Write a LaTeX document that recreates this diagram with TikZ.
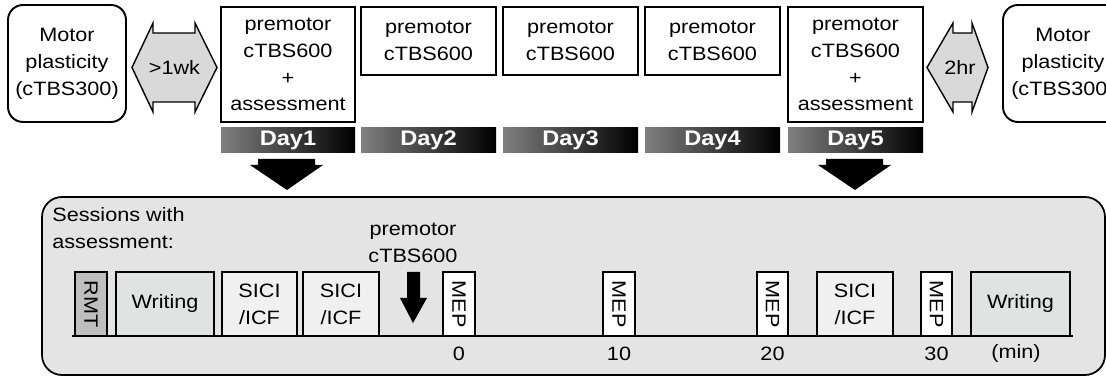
\documentclass[tikz,border=0pt]{standalone}
\usepackage{fontspec}
\setmainfont{Liberation Sans}[FakeStretch=1.12]
\definecolor{gapfill}{HTML}{D9D9D9}
\definecolor{panelfill}{HTML}{E4E4E4}
\definecolor{rmtfill}{HTML}{BEBEBE}
\definecolor{writefill}{HTML}{DFE3E2}
\definecolor{sicifill}{HTML}{F0F0F0}

\begin{document}
\begin{tikzpicture}[x=0.02cm, y=-0.02cm,
    every node/.style={inner sep=0pt, align=center, font=\fontsize{11}{15.3}\selectfont},
    plastbox/.style={draw, line width=1.1pt, rounded corners=0.3cm},
    daybox/.style={draw, line width=1.1pt},
    gapshape/.style={draw, line width=0.8pt, fill=gapfill},
    daybar/.style={left color=black!50, right color=black},
    daytext/.style={text=white, font=\fontsize{12}{14}\selectfont\bfseries},
    sessbox/.style={draw, line width=1pt}]
    \useasboundingbox (0,0) rectangle (1106,377);
    \clip (0,0) rectangle (1106,377);

    % Motor plasticity before and after
    \draw[plastbox] (8,5) rectangle node (mpre) {Motor\\plasticity\\(cTBS300)} (126,122);
    \draw[plastbox] (1003,5) rectangle node (mpost) {Motor\\plasticity\\(cTBS300)} (1123,122);

    % Gaps between sessions
    \draw[gapshape] (132,67.5) -- (153,23) -- (153,33) -- (195,33) -- (195,23) -- (217,67.5)
        -- (195,112) -- (195,102) -- (153,102) -- (153,112) -- cycle;
    \node (wk) at (174.5,67.5) {>1wk};
    \draw[gapshape] (927,67.5) -- (953,23) -- (953,33) -- (972,33) -- (972,23) -- (988,67.5)
        -- (972,112) -- (972,102) -- (953,102) -- (953,112) -- cycle;
    \node (hr) at (960,67.5) {2hr};

    % Stimulation days
    \draw[daybox] (221,7) rectangle node (d1) {premotor\\cTBS600\\+\\assessment} (355,122);
    \foreach \i/\xa/\xb in {2/361/496, 3/503/638, 4/645/780}
        \draw[daybox] (\xa,7) rectangle node (d\i) {premotor\\cTBS600} (\xb,75);
    \draw[daybox] (788,7) rectangle node (d5) {premotor\\cTBS600\\+\\assessment} (923,122);

    % Day bars
    \foreach \i/\xa/\xb in {1/221/355, 2/361/496, 3/503/638, 4/645/780, 5/788/923}
        \shade[daybar] (\xa,128) rectangle node[daytext] (bar\i) {Day\i} (\xb,153);

    % Block arrows down to the session detail
    \foreach \c in {287, 855}
        \fill (\c-29,159) -- (\c+28,159) -- (\c+28,165) -- (\c+36,165) -- (\c,190)
            -- (\c-37,165) -- (\c-29,165) -- cycle;

    % Session detail panel
    \draw[line width=1pt, fill=panelfill, rounded corners=0.4cm] (42,197) rectangle (1105,375);
    \node[anchor=north west, align=left] (sesslabel) at (52,207) {Sessions with\\assessment:};

    % Time line
    \draw[line width=1pt] (72,336) -- (1073,336);
    \draw[sessbox, fill=rmtfill] (75,272) rectangle node[rotate=-90] (rmt) {RMT} (107,336);
    \draw[sessbox, fill=writefill] (116,272) rectangle node (wr1) {Writing} (214,336);
    \draw[sessbox, fill=sicifill] (222,272) rectangle node (sici1) {SICI\\/ICF} (297,336);
    \draw[sessbox, fill=sicifill] (303,272) rectangle node (sici2) {SICI\\/ICF} (379,336);
    \draw[sessbox, fill=sicifill] (817,272) rectangle node (sici3) {SICI\\/ICF} (893,336);
    \draw[sessbox, fill=writefill] (971,272) rectangle node (wr2) {Writing} (1070,336);
    \foreach \t/\xa/\xb in {0/443/475, 10/603/635, 20/757/788, 30/921/952} {
        \draw[sessbox, fill=white] (\xa,272) rectangle node[rotate=-90] (mep\t) {MEP} (\xb,336);
        \node (t\t) at ({(\xa+\xb)/2},354) {\t};
    }
    \node (tmin) at (1016,354) {(min)};

    % premotor stimulation within the session
    \node (pmtext) at (413,243) {premotor\\cTBS600};
    \fill (407,272) -- (420,272) -- (420,298) -- (427,298) -- (413,323) -- (400,298)
        -- (407,298) -- cycle;

\end{tikzpicture}
\end{document}
